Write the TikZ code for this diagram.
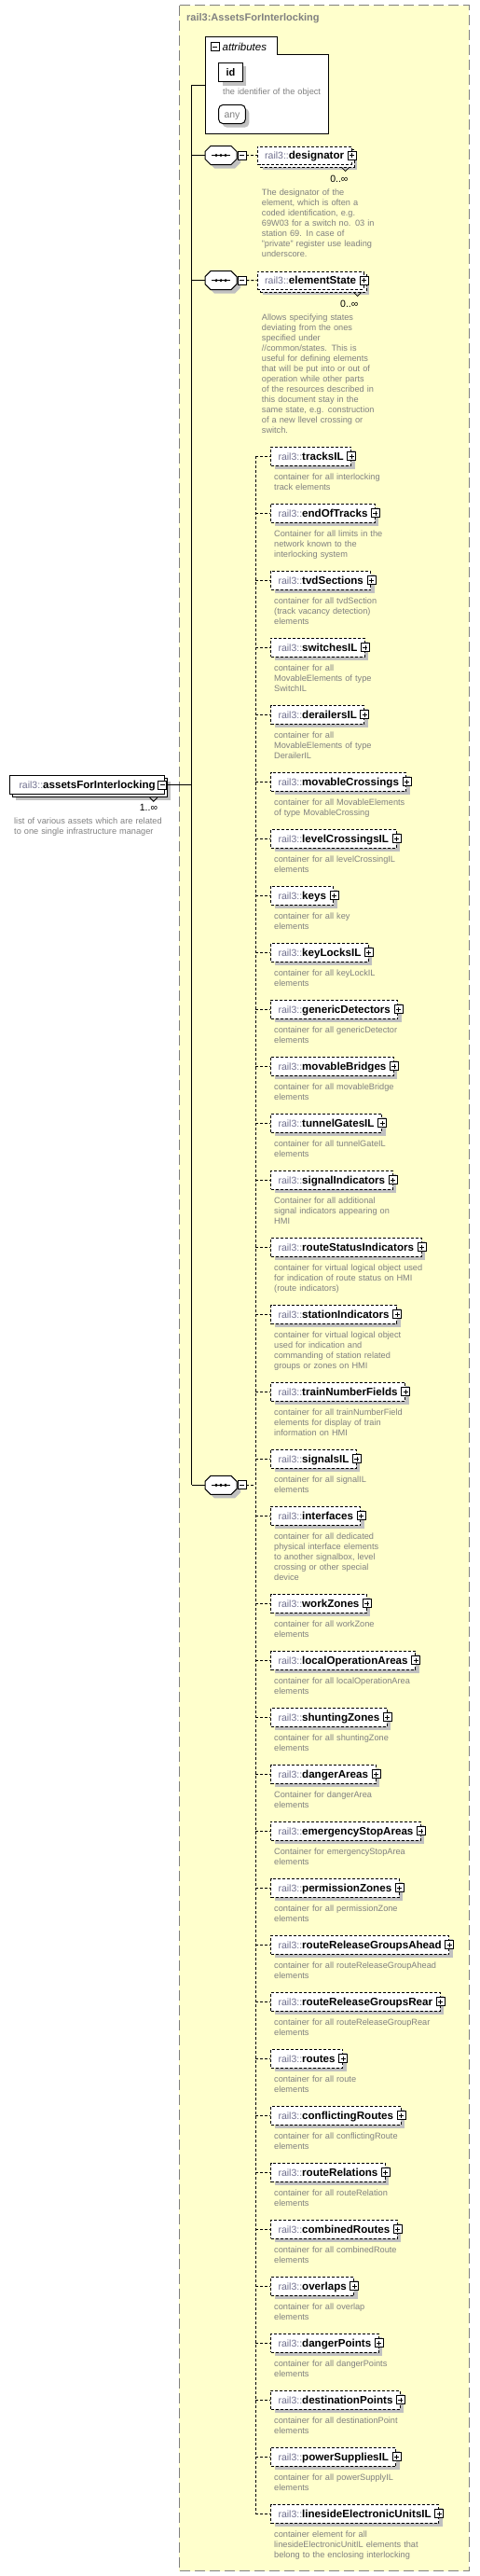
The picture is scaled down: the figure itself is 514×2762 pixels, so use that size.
\documentclass[tikz,border=0pt]{standalone}
\usepackage{fontspec}
\setmainfont{Liberation Sans}
\usetikzlibrary{positioning, shadows}

\definecolor{framefill}{RGB}{255,255,204}
\definecolor{framegray}{RGB}{128,128,128}
\definecolor{titlegray}{RGB}{128,128,128}
\definecolor{descgray}{RGB}{128,128,128}
\definecolor{prefixgray}{RGB}{112,112,142}
\definecolor{shadowgray}{RGB}{192,192,192}

\newcommand{\elname}[1]{{\fontsize{10.5}{13}\selectfont\color{prefixgray}rail3::}{\fontsize{11.6}{13}\selectfont\bfseries #1}}

\tikzset{
  typeframe/.style={draw=framegray, fill=framefill, line width=1pt, dash pattern=on 11pt off 5pt},
  typetitle/.style={anchor=west, inner sep=0pt, text=titlegray, font=\fontsize{11}{13}\selectfont\bfseries},
  wire/.style={draw, line width=1pt},
  dashline/.style={draw, line width=1pt, dash pattern=on 3pt off 2pt},
  boxshadow/.style={drop shadow={shadow xshift=4pt, shadow yshift=-4pt, fill=shadowgray, opacity=1}},
  elbase/.style={draw, fill=white, line width=1pt, anchor=west, minimum height=20pt,
    inner xsep=8pt, inner ysep=0pt, text height=9pt, text depth=1pt, font=\fontsize{11}{13}\selectfont},
  optbox/.style={elbase, dash pattern=on 3pt off 2pt, boxshadow},
  optstack/.style={elbase, minimum height=19pt, dash pattern=on 3pt off 2pt,
    drop shadow={shadow xshift=6pt, shadow yshift=-6pt, fill=shadowgray, opacity=1},
    copy shadow={shadow xshift=3pt, shadow yshift=-3pt, draw=black, fill=white, dash pattern=on 3pt off 2pt}},
  reqstack/.style={elbase, inner xsep=10pt,
    drop shadow={shadow xshift=6pt, shadow yshift=-6pt, fill=shadowgray, opacity=1},
    copy shadow={shadow xshift=3pt, shadow yshift=-3pt, draw=black, fill=white, solid}},
  idbox/.style={elbase, boxshadow},
  anybox/.style={draw, fill=white, rounded corners=5pt, line width=1pt, anchor=west, minimum height=20.4pt,
    inner xsep=6pt, inner ysep=0pt, text height=8pt, text depth=1pt, text=descgray,
    font=\fontsize{10.5}{12}\selectfont, boxshadow},
  minusbox/.style={draw, fill=white, solid, line width=0.8pt, minimum size=9pt, inner sep=0pt,
    path picture={\draw[line width=0.8pt] ([xshift=2pt]path picture bounding box.west) -- ([xshift=-2pt]path picture bounding box.east);}},
  plusbox/.style={draw, fill=white, solid, line width=0.8pt, minimum size=9pt, inner sep=0pt,
    path picture={\draw[line width=0.8pt] ([xshift=2pt]path picture bounding box.west) -- ([xshift=-2pt]path picture bounding box.east);
      \draw[line width=0.8pt] ([yshift=2pt]path picture bounding box.south) -- ([yshift=-2pt]path picture bounding box.north);}},
  desc/.style={anchor=north west, inner sep=0pt, text=descgray, font=\fontsize{9.2}{11}\selectfont,
    text width=200pt, align=left, execute at begin node=\strut},
  mult/.style={anchor=east, inner sep=0pt, font=\fontsize{10.5}{12}\selectfont},
  seqsym/.pic={
    \draw[fill=white, line width=1pt, boxshadow] (-17,-4) -- (-11,-10) -- (11,-10) -- (17,-4)
      -- (17,4) -- (11,10) -- (-11,10) -- (-17,4) -- cycle;
    \draw[line width=1pt] (-10,0) -- (10,0);
    \foreach \d in {-5,0,5} \fill (\d,0) circle (1.7pt);
    \node[minusbox] (-minus) at (22.5,0) {};
    \coordinate (-in) at (-17,0);
  }
}

\begin{document}
\begin{tikzpicture}[x=1pt, y=-1pt]
\useasboundingbox (0,0) rectangle (514,2762);

% complex type frame
\draw[typeframe] (192.3,5.7) rectangle (503.3,2756.7);
\node[typetitle] (title) at (200,20) {rail3:AssetsForInterlocking};

% attributes
\draw[fill=white, line width=1pt] (220,39.3) -- (297.3,39.3) -- (297.3,58.3) -- (352.3,58.3)
  -- (352.3,143.3) -- (220,143.3) -- cycle;
\node[minusbox] (attr-minus) at (230.7,50) {};
\node[anchor=west, inner sep=0pt, font=\fontsize{11.5}{13}\selectfont\itshape] (attr-label) at (238.5,50) {attributes};
\node[idbox] (id) at (234,77.5) {\textbf{id}\hspace{26pt}};
\node[desc] (id-desc) at (239,93.9) {the identifier of the object};
\node[anybox] (anyattr) at (234,122.5) {any\hspace{18pt}};
\coordinate (attr-in) at (220,91);

% the element itself
\node[reqstack] (assets) at (10,841.7) {\elname{assetsForInterlocking}\hspace{5pt}};
\node[minusbox] (assets-minus) at ([xshift=-3pt]assets.east) {};
\draw[line width=0.8pt] ([xshift=-16.5pt,yshift=-3pt]assets.south east) -- ++(4,4) -- ++(4,-4);
\node[mult] (assets-mult) at ([xshift=-8pt,yshift=-14pt]assets.south east) {1..∞};
\node[desc] (assets-desc) at (15,875.8) {list of various assets which are related\\to one single infrastructure manager};

% main spine
\coordinate (spinetop) at (205.7,91);
\coordinate (spinebot) at (205.7,1592.3);
\draw[wire] (spinetop) -- (spinebot);
\draw[wire] (spinetop) -- (attr-in);
\draw[wire] (assets-minus.east) -- (spinetop |- assets);

% sequences
\pic (seq1) at (237,166.5) {seqsym};
\pic (seq2) at (237,300.7) {seqsym};
\pic (seq3) at (237,1592.3) {seqsym};
\foreach \s in {seq1,seq2,seq3}
  \draw[wire] (spinetop |- \s-in) -- (\s-in);

% designator
\node[optstack] (designator) at (275.7,166.5) {\elname{designator}\hspace{4pt}};
\node[plusbox] (designator-plus) at (designator.east) {};
\draw[line width=0.8pt] ([xshift=-11pt,yshift=-3pt]designator.south east) -- ++(4,4) -- ++(4,-4);
\node[mult] (designator-mult) at ([xshift=-4pt,yshift=-15pt]designator.south east) {0..∞};
\draw[dashline] (seq1-minus.east) -- (designator.west);
\node[desc] (designator-desc) at (280.7,201.3) {The designator of the\\element, which is often a\\coded identification, e.g.\\69W03 for a switch no. 03 in\\station 69. In case of\\"private" register use leading\\underscore.};

% elementState
\node[optstack] (elementState) at (275.7,300.5) {\elname{elementState}\hspace{4pt}};
\node[plusbox] (elementState-plus) at (elementState.east) {};
\draw[line width=0.8pt] ([xshift=-11pt,yshift=-3pt]elementState.south east) -- ++(4,4) -- ++(4,-4);
\node[mult] (elementState-mult) at ([xshift=-6pt,yshift=-15pt]elementState.south east) {0..∞};
\draw[dashline] (seq2-minus.east) -- (elementState.west);
\node[desc] (elementState-desc) at (280.7,335.3) {Allows specifying states\\deviating from the ones\\specified under\\//common/states. This is\\useful for defining elements\\that will be put into or out of\\operation while other parts\\of the resources described in\\this document stay in the\\same state, e.g. construction\\of a new llevel crossing or\\switch.};

% containers of the third sequence
\coordinate (spine) at (274,0);
\foreach \y/\nm/\desc in {
  489.3/tracksIL/{container for all interlocking\\track elements},
  550.3/endOfTracks/{Container for all limits in the\\network known to the\\interlocking system},
  622.3/tvdSections/{container for all tvdSection\\(track vacancy detection)\\elements},
  694.3/switchesIL/{container for all\\MovableElements of type\\SwitchIL},
  766.3/derailersIL/{container for all\\MovableElements of type\\DerailerIL},
  838.3/movableCrossings/{container for all MovableElements\\of type MovableCrossing},
  899.3/levelCrossingsIL/{container for all levelCrossingIL\\elements},
  960.3/keys/{container for all key\\elements},
  1021.3/keyLocksIL/{container for all keyLockIL\\elements},
  1082.3/genericDetectors/{container for all genericDetector\\elements},
  1143.3/movableBridges/{container for all movableBridge\\elements},
  1204.3/tunnelGatesIL/{container for all tunnelGateIL\\elements},
  1265.3/signalIndicators/{Container for all additional\\signal indicators appearing on\\HMI},
  1337.3/routeStatusIndicators/{container for virtual logical object used\\for indication of route status on HMI\\(route indicators)},
  1409.3/stationIndicators/{container for virtual logical object\\used for indication and\\commanding of station related\\groups or zones on HMI},
  1492.3/trainNumberFields/{container for all trainNumberField\\elements for display of train\\information on HMI},
  1564.3/signalsIL/{container for all signalIL\\elements},
  1625.3/interfaces/{container for all dedicated\\physical interface elements\\to another signalbox, level\\crossing or other special\\device},
  1719.3/workZones/{container for all workZone\\elements},
  1780.3/localOperationAreas/{container for all localOperationArea\\elements},
  1841.3/shuntingZones/{container for all shuntingZone\\elements},
  1902.3/dangerAreas/{Container for dangerArea\\elements},
  1963.3/emergencyStopAreas/{Container for emergencyStopArea\\elements},
  2024.3/permissionZones/{container for all permissionZone\\elements},
  2085.3/routeReleaseGroupsAhead/{container for all routeReleaseGroupAhead\\elements},
  2146.3/routeReleaseGroupsRear/{container for all routeReleaseGroupRear\\elements},
  2207.3/routes/{container for all route\\elements},
  2268.3/conflictingRoutes/{container for all conflictingRoute\\elements},
  2329.3/routeRelations/{container for all routeRelation\\elements},
  2390.3/combinedRoutes/{container for all combinedRoute\\elements},
  2451.3/overlaps/{container for all overlap\\elements},
  2512.3/dangerPoints/{container for all dangerPoints\\elements},
  2573.3/destinationPoints/{container for all destinationPoint\\elements},
  2634.3/powerSuppliesIL/{container for all powerSupplyIL\\elements},
  2695.3/linesideElectronicUnitsIL/{container element for all\\linesideElectronicUnitIL elements that\\belong to the enclosing interlocking}}{
  \node[optbox] (\nm) at (290,\y) {\elname{\nm}\hspace{4pt}};
  \node[plusbox] (\nm-plus) at (\nm.east) {};
  \node[desc, below right=6.6pt and 4pt of \nm.south west] (\nm-desc) {\desc};
  \draw[dashline] (spine |- \nm.west) -- (\nm.west);
}
\draw[dashline] (spine |- tracksIL.west) -- (spine |- linesideElectronicUnitsIL.west);
\draw[dashline] (seq3-minus.east) -- (spine |- seq3-minus);

\end{tikzpicture}
\end{document}
